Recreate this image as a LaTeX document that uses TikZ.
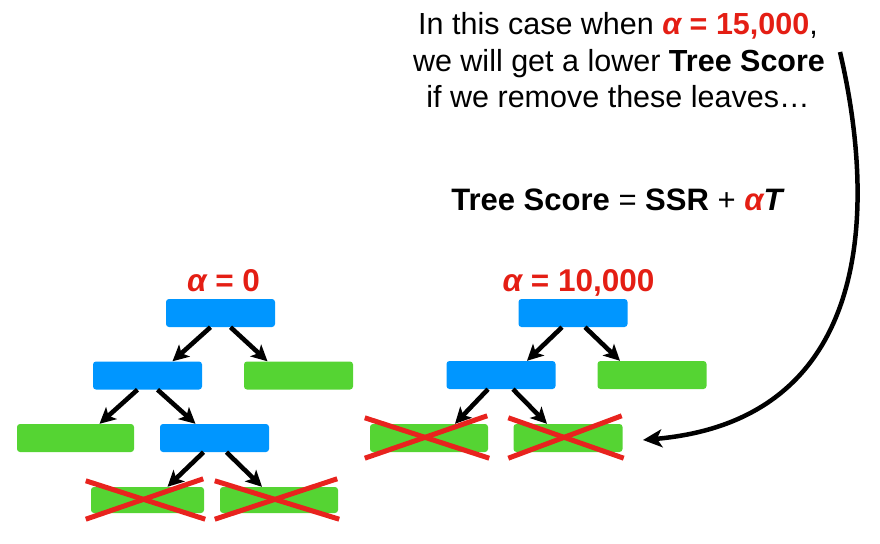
\documentclass[tikz,border=0pt]{standalone}
\usepackage{fontspec}
\setmainfont{Liberation Sans}
\usepackage{xcolor}
\usetikzlibrary{arrows.meta,positioning,calc}
\definecolor{splitblue}{RGB}{0,150,255}
\definecolor{leafgreen}{RGB}{85,212,51}
\definecolor{alphared}{RGB}{228,30,20}
\definecolor{crossred}{RGB}{232,35,30}
\newcommand{\al}{{\itshape α}}

\begin{document}
\begin{tikzpicture}[x=1pt,y=-1pt,
	box/.style={rounded corners=3pt,inner sep=0pt,minimum width=109pt,minimum height=28pt},
	split node/.style={box,fill=splitblue},
	leaf node/.style={box,fill=leafgreen},
	branch/.style={-{Stealth[length=16pt,width=16pt,inset=4pt]},line width=4.6pt},
	pruned/.style={draw=crossred,line width=5pt},
	alpha label/.style={font=\fontsize{31.5}{36}\selectfont\bfseries,text=alphared,anchor=base,inner sep=0pt},
	note/.style={font=\fontsize{30.5}{36}\selectfont,anchor=base,inner sep=0pt}]

    \useasboundingbox (0,0) rectangle (880,543);

    % alpha = 0
    \node[split node] (rootA) at (220.5,313) {};
    \node[split node] (splitA1) at (147.5,375.5) {};
    \node[leaf node] (leafA1) at (298.5,375.5) {};
    \node[leaf node,minimum width=117pt] (leafA2) at (75.5,438) {};
    \node[split node] (splitA2) at (214.5,438) {};
    \node[leaf node,minimum width=113pt,minimum height=26pt] (cutA1) at (147.5,500) {};
    \node[leaf node,minimum width=118pt,minimum height=26pt] (cutA2) at (279,500) {};
    \node[alpha label] (alphaA) at (223.5,291) {\al{} = 0};

    % alpha = 10,000
    \node[split node] (rootB) at (573,313) {};
    \node[split node] (splitB1) at (501,375) {};
    \node[leaf node] (leafB1) at (652,375) {};
    \node[leaf node,minimum width=118pt] (cutB1) at (429,438) {};
    \node[leaf node] (cutB2) at (568,438) {};
    \node[alpha label] (alphaB) at (578.5,291) {\al{} = 10,000};

    \path[branch]
	([shift={(-10,0)}]rootA.south) edge ([shift={(25,0)}]splitA1.north)
	([shift={(10,0)}]rootA.south) edge ([shift={(-31,0)}]leafA1.north)
	([shift={(-10,0)}]splitA1.south) edge ([shift={(24,0)}]leafA2.north)
	([shift={(10,0)}]splitA1.south) edge ([shift={(-19,0)}]splitA2.north)
	([shift={(-11,0)}]splitA2.south) edge ([shift={(20,0)}]cutA1.north)
	([shift={(12,0)}]splitA2.south) edge ([shift={(-17,0)}]cutA2.north);
    \path[branch]
	([shift={(-11,0)}]rootB.south) edge ([shift={(26,0)}]splitB1.north)
	([shift={(12,0)}]rootB.south) edge ([shift={(-32,0)}]leafB1.north)
	([shift={(-13,0)}]splitB1.south) edge ([shift={(26,0)}]cutB1.north)
	([shift={(12,0)}]splitB1.south) edge ([shift={(-21,0)}]cutB2.north);

    \foreach \n in {cutA1,cutA2,cutB1,cutB2} {
	\draw[pruned] ([shift={(-5,-6)}]\n.north west) -- ([shift={(1,6)}]\n.south east);
	\draw[pruned] ([shift={(-5,6)}]\n.south west) -- ([shift={(-1,-8)}]\n.north east);
    }

    % text
    \node[note] (line1) at (618,35) {In this case when \textcolor{alphared}{\bfseries\al{} = 15,000},};
    \node[note] (line2) at (619,71) {we will get a lower \textbf{Tree Score}};
    \node[note] (line3) at (618,107) {if we remove these leaves…};
    \node[note,font=\fontsize{31}{36}\selectfont] (score) at (618,210)
	{\textbf{Tree Score} = \textbf{SSR} + \textcolor{alphared}{\bfseries\al}\textbf{\itshape T}};

    \coordinate (from) at (840,52);
    \coordinate (to) at (643,440);
    \draw[line width=4.5pt,-{Stealth[length=19pt,width=18pt,inset=5pt]}]
	(from) .. controls (878,215) and (870,420) .. (to);

\end{tikzpicture}
\end{document}
